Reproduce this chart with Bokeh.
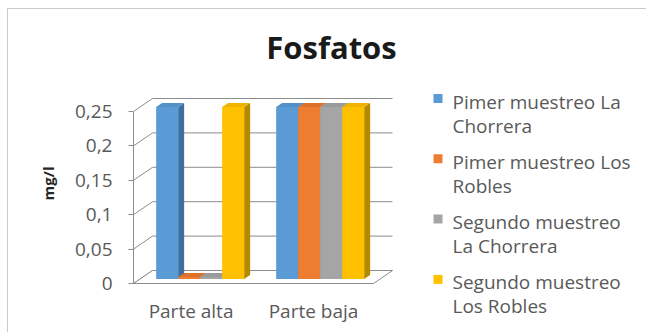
from bokeh.plotting import figure
from bokeh.models import Range1d, FixedTicker, Title, Label
from bokeh.core.properties import value
from bokeh.embed import file_html
from bokeh.resources import INLINE

# ---------------- data ----------------
title_text = "Fosfatos"
y_axis_title = "mg/l"
categories = ["Parte  alta", "Parte baja"]
series_names = [
    "Pimer muestreo La Chorrera",
    "Pimer muestreo Los Robles",
    "Segundo muestreo La Chorrera",
    "Segundo muestreo Los Robles",
]
legend_lines = [
    ["Pimer muestreo La", "Chorrera"],
    ["Pimer muestreo Los", "Robles"],
    ["Segundo muestreo", "La Chorrera"],
    ["Segundo muestreo", "Los Robles"],
]
chorrera_1 = [0.25, 0.25]
robles_1 = [0.003, 0.25]
chorrera_2 = [0.003, 0.25]
robles_2 = [0.25, 0.25]
series_values = [chorrera_1, robles_1, chorrera_2, robles_2]
y_ticks = [0, 0.05, 0.1, 0.15, 0.2, 0.25]
y_tick_labels = ["0", "0,05", "0,1", "0,15", "0,2", "0,25"]

# ---------------- styles / layout ----------------
front_colors = ["#5B9BD5", "#ED7D31", "#A5A5A5", "#FFC000"]
side_colors = ["#3E6F9E", "#B35E22", "#7B7B7B", "#B38A00"]
top_colors = ["#5290C8", "#DC7229", "#9A9A9A", "#F0B400"]
grid_color = "#8C8C8C"
text_color = "#595959"
FONT = "Open Sans"

W, H = 646, 332
FL, FB = 133, 283          # frame left / y of value 0 (front floor) in canvas px
PX_X, PX_Y = 120.0, 688.0  # px per category, px per mg/l


def px2x(px):
    return (px - FL) / PX_X


def px2y(py):
    return (FB - py) / PX_Y


DX, DY = 19 / PX_X, 13 / PX_Y          # depth of the 3D box
BX, BY = 0.35 * DX, 0.35 * DY          # plane of the bars
BDX, BDY = 6 / PX_X, 4 / PX_Y          # depth of each bar
BW = 22 / PX_X                          # bar width
n_series = len(series_names)
margin = (1 - n_series * BW) / 2
n_cat = len(categories)
y_max = max(y_ticks)

p = figure(width=W, height=H, output_backend="svg", toolbar_location=None,
           x_axis_location=None,
           x_range=Range1d(0, (W - FL) / PX_X),
           y_range=Range1d((FB - H) / PX_Y, FB / PX_Y),
           min_border_left=FL, min_border_right=0, min_border_top=0,
           min_border_bottom=0)
p.outline_line_color = None
p.background_fill_color = None
p.border_fill_color = None
p.xgrid.visible = False
p.ygrid.visible = False

# outer chart border (left and top edges, as in the reference screenshot)
p.styles = {
    "background-color": "white",
    "background-image": "linear-gradient(#cccccc,#cccccc), linear-gradient(#cccccc,#cccccc)",
    "background-repeat": "no-repeat",
    "background-position": "7px 8px, 7px 8px",
    "background-size": "1px 100%, 100% 1px",
}

# back wall gridlines and side-wall diagonals
p.segment(x0=[DX] * len(y_ticks), y0=[t + DY for t in y_ticks],
          x1=[n_cat + DX] * len(y_ticks), y1=[t + DY for t in y_ticks],
          line_color=grid_color, line_width=1)
p.segment(x0=[0] * len(y_ticks), y0=y_ticks,
          x1=[DX] * len(y_ticks), y1=[t + DY for t in y_ticks],
          line_color=grid_color, line_width=1)
# floor
p.patch(x=[0, n_cat, n_cat + DX, DX], y=[0, 0, DY, DY],
        fill_color="white", line_color=grid_color, line_width=1)

# bars
side_xs, side_ys, side_c = [], [], []
top_xs, top_ys, top_c = [], [], []
fl, fr, fb, ft, fc = [], [], [], [], []
for j in range(n_cat):
    for i in range(n_series):
        v = series_values[i][j]
        x0 = j + margin + i * BW + BX
        x1 = x0 + BW
        y0 = BY
        y1 = v + BY
        side_xs.append([x1, x1 + BDX, x1 + BDX, x1])
        side_ys.append([y0, y0 + BDY, y1 + BDY, y1])
        side_c.append(side_colors[i])
        top_xs.append([x0, x0 + BDX, x1 + BDX, x1])
        top_ys.append([y1, y1 + BDY, y1 + BDY, y1])
        top_c.append(top_colors[i])
        fl.append(x0); fr.append(x1); fb.append(y0); ft.append(y1)
        fc.append(front_colors[i])

p.patches(xs=side_xs, ys=side_ys, fill_color=side_c, line_color=None)
p.patches(xs=top_xs, ys=top_ys, fill_color=top_c, line_color=None)
p.quad(left=fl, right=fr, bottom=fb, top=ft, fill_color=fc, line_color=None)

# y axis (front wall edge)
ya = p.yaxis[0]
ya.bounds = (0, y_max)
ya.ticker = FixedTicker(ticks=y_ticks)
ya.major_label_overrides = {t: s for t, s in zip(y_ticks, y_tick_labels)}
ya.axis_line_color = grid_color
ya.major_tick_line_color = grid_color
ya.major_tick_out = 5
ya.major_tick_in = 0
ya.minor_tick_line_color = None
ya.major_label_standoff = 16
ya.major_label_text_font = FONT
ya.major_label_text_font_size = "19px"
ya.major_label_text_color = text_color

# y axis title, placed in the left panel next to the tick labels
p.add_layout(Title(text=y_axis_title, align="left", offset=H - 200, standoff=28,
                   text_font=FONT, text_font_style="bold", text_font_size="15px",
                   text_color="#262626"), "left")

# category labels under the floor
p.text(x=[j + 0.5 for j in range(n_cat)], y=[px2y(310)] * n_cat, text=categories,
       text_font=value(FONT), text_font_size=value("19px"), text_color=text_color,
       text_align="center", text_baseline="middle")

# chart title
p.add_layout(Label(x=px2x(331), y=px2y(46), text=title_text,
                   text_align="center", text_baseline="middle",
                   text_font=FONT, text_font_style="bold",
                   text_font_size="31px", text_color="#1a1a1a"))

# legend
LEG_SQ_X, LEG_TX_X = 437.5, 452
LEG_TOP, LEG_STEP, LEG_LINE = 101, 60.3, 24
sq_x, sq_y, tx_x, tx_y, tx = [], [], [], [], []
for k, lines in enumerate(legend_lines):
    base = LEG_TOP + k * LEG_STEP
    sq_x.append(px2x(LEG_SQ_X))
    sq_y.append(px2y(base - 3))
    for m, line in enumerate(lines):
        tx_x.append(px2x(LEG_TX_X))
        tx_y.append(px2y(base + m * LEG_LINE))
        tx.append(line)
p.scatter(x=sq_x, y=sq_y, marker="square", size=9, fill_color=front_colors,
          line_color=None)
p.text(x=tx_x, y=tx_y, text=tx, text_font=value(FONT),
       text_font_size=value("19px"), text_color=text_color,
       text_align="left", text_baseline="middle")

open("out.html", "w").write(file_html(p, INLINE))
